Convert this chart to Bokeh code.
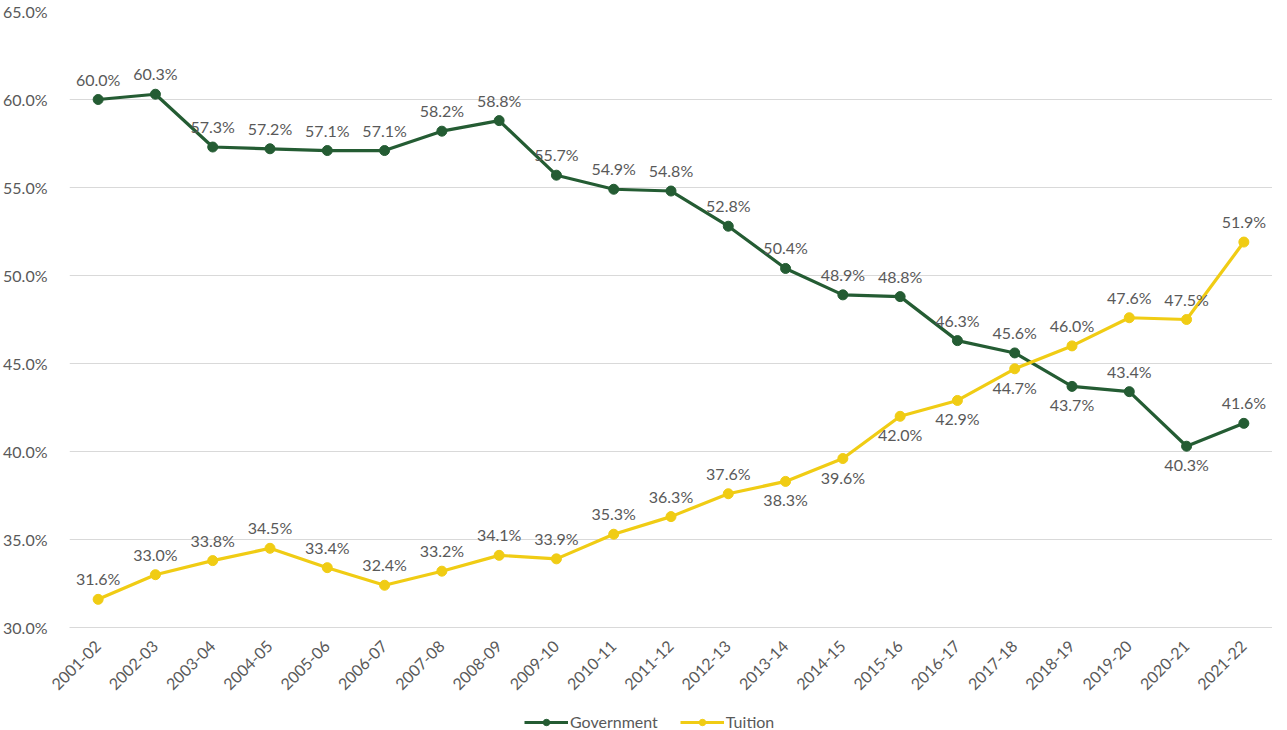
import math
from bokeh.plotting import figure
from bokeh.layouts import column
from bokeh.models import ColumnDataSource, FactorRange, Legend, LegendItem, FixedTicker, CustomJSTickFormatter
from bokeh.core.properties import value
from bokeh.embed import file_html
from bokeh.resources import INLINE

years = ["2001-02", "2002-03", "2003-04", "2004-05", "2005-06", "2006-07", "2007-08",
         "2008-09", "2009-10", "2010-11", "2011-12", "2012-13", "2013-14", "2014-15",
         "2015-16", "2016-17", "2017-18", "2018-19", "2019-20", "2020-21", "2021-22"]
government = [60.0, 60.3, 57.3, 57.2, 57.1, 57.1, 58.2, 58.8, 55.7, 54.9, 54.8, 52.8,
              50.4, 48.9, 48.8, 46.3, 45.6, 43.7, 43.4, 40.3, 41.6]
tuition = [31.6, 33.0, 33.8, 34.5, 33.4, 32.4, 33.2, 34.1, 33.9, 35.3, 36.3, 37.6,
           38.3, 39.6, 42.0, 42.9, 44.7, 46.0, 47.6, 47.5, 51.9]
series_names = ["Government", "Tuition"]
# label placement: True = above the point
gov_above = [True] * 17 + [False, True, False, True]
tui_above = [True] * 12 + [False, False, False, False, False, True, True, True, True]
y_ticks = [30, 35, 40, 45, 50, 55, 60, 65]

GREEN = "#245C33"
YELLOW = "#F0CC14"
TEXT = "#595959"
FONT = "Lato"
W = 1271

p = figure(x_range=FactorRange(*years, range_padding=0), y_range=(30, 65),
           frame_width=1203, frame_height=616,
           min_border_left=68, min_border_right=0, min_border_top=11, min_border_bottom=0,
           output_backend="svg", toolbar_location=None)
p.outline_line_color = None
p.background_fill_color = "white"
p.border_fill_color = "white"

p.yaxis.ticker = FixedTicker(ticks=y_ticks)
p.yaxis.formatter = CustomJSTickFormatter(code="return tick.toFixed(1) + '%';")
p.yaxis.axis_line_color = None
p.yaxis.major_tick_line_color = None
p.yaxis.minor_tick_line_color = None
p.yaxis.major_label_text_font = FONT
p.yaxis.major_label_text_font_size = "16px"
p.yaxis.major_label_text_color = TEXT
p.yaxis.major_label_standoff = 16

p.xaxis.axis_line_color = "#D9D9D9"
p.xaxis.major_tick_line_color = None
p.xaxis.minor_tick_line_color = None
p.xaxis.major_label_orientation = math.pi / 4
p.xaxis.major_label_text_font = FONT
p.xaxis.major_label_text_font_size = "16px"
p.xaxis.major_label_text_color = TEXT
p.xaxis.major_label_standoff = 10

p.xgrid.grid_line_color = None
p.ygrid.grid_line_color = "#D9D9D9"
p.ygrid.ticker = FixedTicker(ticks=y_ticks)

src = ColumnDataSource(dict(x=years, g=government, t=tuition))
p.line("x", "g", source=src, line_color=GREEN, line_width=3.2)
p.scatter("x", "g", source=src, size=10, fill_color=GREEN, line_color=GREEN)
p.line("x", "t", source=src, line_color=YELLOW, line_width=3.2)
p.scatter("x", "t", source=src, size=10, fill_color=YELLOW, line_color=YELLOW)

def add_labels(vals, above_flags):
    up = dict(x=[], y=[], s=[])
    dn = dict(x=[], y=[], s=[])
    for yr, v, a in zip(years, vals, above_flags):
        d = up if a else dn
        d["x"].append(yr)
        d["y"].append(v)
        d["s"].append(f"{v:.1f}%")
    p.text("x", "y", text="s", source=ColumnDataSource(up), text_align="center",
           text_baseline="bottom", y_offset=-11, text_font=value(FONT),
           text_font_size="16px", text_color=TEXT)
    p.text("x", "y", text="s", source=ColumnDataSource(dn), text_align="center",
           text_baseline="top", y_offset=9, text_font=value(FONT),
           text_font_size="16px", text_color=TEXT)

add_labels(government, gov_above)
add_labels(tuition, tui_above)

# legend strip below the chart (series drawn off-range, only their legend glyphs show)
lf = figure(width=W, height=34, x_range=FactorRange(*years, range_padding=0), y_range=(0, 1),
            min_border=0, output_backend="svg", toolbar_location=None)
lf.axis.visible = False
lf.grid.visible = False
lf.outline_line_color = None
items = []
for name, col, key in zip(series_names, [GREEN, YELLOW], ["g", "t"]):
    r1 = lf.line("x", key, source=src, line_color=col, line_width=3.2)
    r2 = lf.scatter("x", key, source=src, size=10, fill_color=col, line_color=col)
    items.append(LegendItem(label=name, renderers=[r1, r2]))
legend = Legend(items=items, orientation="horizontal", location=(455, 0),
                label_text_font=FONT, label_text_font_size="16px", label_text_color=TEXT,
                glyph_width=44, glyph_height=16, spacing=22, padding=0, margin=0,
                border_line_color=None, background_fill_color=None, label_standoff=2)
lf.add_layout(legend, "center")

layout = column(p, lf, spacing=0)
open("out.html", "w").write(file_html(layout, INLINE))
